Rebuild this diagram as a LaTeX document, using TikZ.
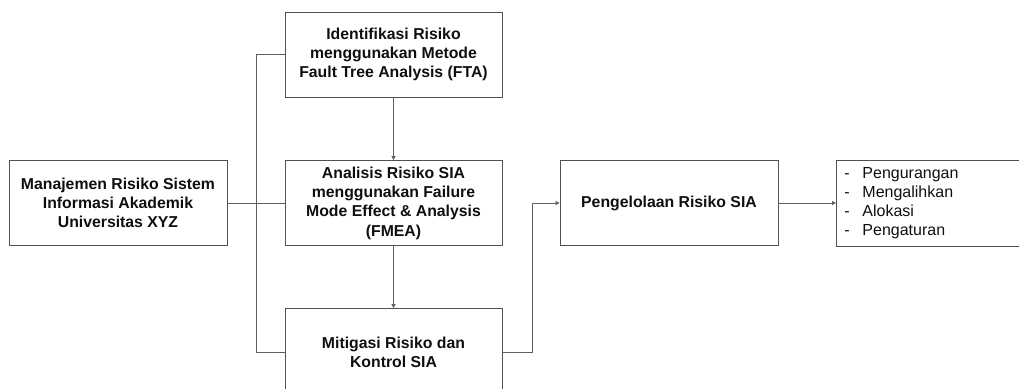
\documentclass[tikz,border=0pt]{standalone}
\usepackage{fontspec}
\setmainfont{Liberation Sans}
\usetikzlibrary{arrows.meta}
\definecolor{boxline}{RGB}{80,80,80}
\definecolor{conline}{RGB}{95,95,95}
\definecolor{txt}{RGB}{15,15,15}
\begin{document}
\begin{tikzpicture}[x=1pt,y=1pt,
  box/.style={draw=boxline, line width=0.9pt, rectangle, align=center, inner sep=2pt,
    minimum width=217pt, minimum height=85pt, text=txt,
    font=\fontsize{15.8}{19.3}\selectfont\bfseries},
  con/.style={draw=conline, line width=0.9pt},
  arr/.style={con, -{Triangle[length=4pt,width=4pt]}}]
\useasboundingbox (0,0) rectangle (1019,-388);
\begin{scope}
\clip (0,0) rectangle (1019,-388);
\node[box, minimum width=218pt] (L) at (118,-203) {Manajemen Risiko Sistem\\Informasi Akademik\\Universitas XYZ};
\node[box] (T) at (393.5,-54.5) {Identifikasi Risiko\\menggunakan Metode\\Fault Tree Analysis (FTA)};
\node[box] (F) at (393.5,-203) {Analisis Risiko SIA\\menggunakan Failure\\Mode Effect \& Analysis\\(FMEA)};
\node[box, minimum height=87pt] (M) at (393.5,-352) {Mitigasi Risiko dan\\Kontrol SIA};
\node[box, minimum width=218pt] (P) at (669,-203) {Pengelolaan Risiko SIA};
\node[box, anchor=west, minimum width=240pt, minimum height=86pt, inner xsep=8pt,
  text width=224pt, align=left, font=\fontsize{16}{19}\selectfont] (R) at (836,-203)
  {\makebox[18pt][l]{-}Pengurangan\\\makebox[18pt][l]{-}Mengalihkan\\\makebox[18pt][l]{-}Alokasi\\\makebox[18pt][l]{-}Pengaturan};
\coordinate (tr) at (256,-54.5);
\draw[con] (T.west) -- (tr) |- (M.west);
\draw[con] (L.east) -- (F.west);
\draw[arr] (T.south) -- (F.north);
\draw[arr] (F.south) -- (M.north);
\coordinate (mr) at (532,-352);
\draw[arr] (M.east) -- (mr) |- (P.west);
\draw[arr] (P.east) -- (R.west);
\end{scope}
\end{tikzpicture}
\end{document}
